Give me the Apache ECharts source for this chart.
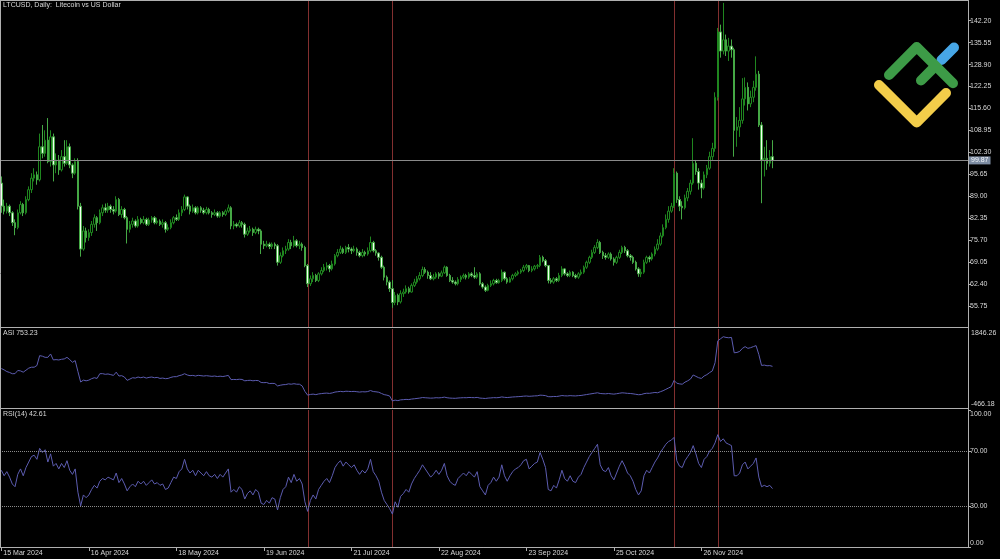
<!DOCTYPE html>
<html><head><meta charset="utf-8">
<script src="https://cdn.jsdelivr.net/npm/echarts@6/dist/echarts.min.js"></script>
<style>html,body{margin:0;padding:0;background:#000;}#c{width:1000px;height:559px;}</style>
</head><body><div id="c"></div>
<script>
// ---------- data ----------
const titleText = 'LTCUSD, Daily:  Litecoin vs US Dollar';
const asiTitle = 'ASI 753.23';
const rsiTitle = 'RSI(14) 42.61';
const startDate = [2024, 2, 15];       // 15 Mar 2024
const totalSlots = 354;                 // visible daily slots on the x axis
const labelEvery = 32;
const MONTHS = ['Jan','Feb','Mar','Apr','May','Jun','Jul','Aug','Sep','Oct','Nov','Dec'];
// [open, close, low, high]
const ohlc = [
[93,86,84,95],[86,84.5,83.5,88],[84.5,86,83.8,87],[86,84,83,86.5],[84,81,80,84.5],[81,79.5,77.2,82],[79.5,84,79,85],[84,86.5,83.5,87.5],[86.5,84,83,87],[84,88,83.5,89],
[88,91,87.5,92],[91,94.5,90,96],[94.5,95.5,93.5,97.5],[95.5,94,92.5,96.5],[94,104,93.5,108],[104,102,100.5,110.6],[102,106,101,109],[106,99.5,99,112.7],[99.5,107,98,109],[107,98.5,93.5,108],
[98.5,100,96,102],[100,97,95.5,101.5],[97,101,96.5,103],[101,99,98,106],[99,104,98.5,106],[104,98.5,97.5,105],[98.5,96,94.5,99],[96,99.5,95.5,100.5],[99.5,86,85,100.5],[86,73,70.7,87],
[73,78.5,72.5,80],[78.5,76.5,75,79.5],[76.5,78,75.5,79],[78,80.5,77,81.5],[80.5,82.5,79.5,83.5],[82.5,81,78.5,83],[81,84,80.5,85],[84,85.5,83,86.5],[85.5,84.8,84,86.8],[84.8,86,84,87],
[86,85,84,86.5],[85,84.5,83.5,86],[84.5,88,84,89],[88,83.5,83,88.5],[83.5,85,82.5,86],[85,82.5,82,85.5],[82.5,79,74.7,83],[79,80.5,78,81.5],[80.5,81.5,79.5,82.5],[81.5,80,79.5,82],
[80,82,79.5,83],[82,81,80.5,82.5],[81,82,80.5,83],[82,80.5,80,82.5],[80.5,81.8,80,82.5],[81.8,82.5,81,83],[82.5,81,80.5,83],[81,81.5,80.5,82.5],[81.5,80.5,80,82],[80.5,81,79.5,82],
[81,79,78,81.5],[79,79.5,78.5,80.5],[79.5,81,79,82],[81,82.5,80.5,83],[82.5,82,81.5,83.5],[82,84,81.5,85],[84,85,83,86],[85,88.8,84.5,89.5],[88.8,86,85,89],[86,84.5,83.5,86.5],
[84.5,85.5,84,86.5],[85.5,84,83.5,86],[84,85.5,83.5,86],[85.5,84.8,84,86],[84.8,84,83.5,85.5],[84,85,83.5,85.8],[85,84,83.5,85.5],[84,83.5,82.5,84.5],[83.5,84,83,85],[84,83,82.5,84.5],
[83,84,82.5,84.5],[84,83.5,82.8,84.5],[83.5,84.5,83,85],[84.5,85.5,84,86.5],[85.5,80,79,86],[80,80.5,79,81.5],[80.5,80,79.5,81],[80,81,79.5,81.8],[81,80.5,79.5,81.5],[80.5,77.5,76.5,81],
[77.5,78.5,77,79.5],[78.5,79,78,80],[79,78,77,79.5],[78,79,77.5,79.8],[79,78.5,77.5,79.5],[78.5,74.5,71.5,79],[74.5,74,73,75.5],[74,74.5,73.5,75.5],[74.5,73.8,73,75],[73.8,74.5,73,75],
[74.5,74,73,75],[74,69,68,74.5],[69,71,68.5,72],[71,72.5,70.5,73.5],[72.5,73,71.5,74],[73,75,72.5,76],[75,74,73,75.8],[74,75.5,73.5,77],[75.5,74,73.5,76],[74,74.5,73,75.5],
[74.5,73.5,72.5,75],[73.5,68,67.5,74],[68,62.5,61.5,68.5],[62.5,64,61.8,65],[64,65,63,66],[65,63.5,63,65.5],[63.5,65.5,63,66],[65.5,66.5,65,67.5],[66.5,67.5,66,68.5],[67.5,68,66.5,69],
[68,67,66,68.5],[67,68.5,66.5,69.5],[68.5,71,68,71.5],[71,72,70.5,73],[72,73,71.5,74],[73,72,71.5,73.5],[72,73.5,71.5,74],[73.5,73,72,74.5],[73,72.5,71.5,73.5],[72.5,73,72,74],
[73,72,71,73.5],[72,71,70.5,72.5],[71,72,70.5,73],[72,71.5,70.8,72.5],[71.5,72.5,71,73.5],[72.5,75,72,76.8],[75,72.5,72,75.5],[72.5,71.8,71,73],[71.8,70.5,69.5,72],[70.5,67.5,67,71],
[67.5,64.5,63.5,68],[64.5,63,62,65],[63,61,60,63.5],[61,56.8,55.2,63.6],[56.8,59,56,60],[59,57,56,59.5],[57,59.5,56.5,60.5],[59.5,60,58.5,61],[60,61,59.5,62],[61,60,59.5,61.6],
[60,62,59.8,62.6],[62,63,61.5,64],[63,64,62.5,64.8],[64,65,63.5,66],[65,66.8,64.5,67.7],[66.8,66,65.5,67.5],[66,65,64,66.5],[65,64,63.6,66],[64,64.5,63.5,65.5],[64.5,65.5,64,66],
[65.5,64.8,64,66],[64.8,65.8,64.5,66.5],[65.8,67.5,65.5,68],[67.5,65,64.6,67.8],[65,63.5,63,65.5],[63.5,63,62.5,64.5],[63,62.5,62,63.5],[62.5,63.8,62,64.5],[63.8,64.5,63,65],[64.5,65,64,65.6],
[65,64.5,63.8,65.5],[64.5,65.5,64,66],[65.5,65,64.5,66],[65,64.5,64,67.5],[64.5,65.5,64,66],[65.5,62.5,62,66],[62.5,61.5,61,63],[61.5,60.5,60,62],[60.5,62,60.2,62.5],[62,62.5,61.5,63.5],
[62.5,63.5,62,64],[63.5,62.8,62.5,64],[62.8,63.5,62.5,64],[63.5,66,63,66.8],[66,64,63.5,66.2],[64,63,62.5,64.5],[63,64,62.8,64.5],[64,65,63.5,65.5],[65,65.5,64.5,66],[65.5,66,65,66.5],
[66,66.5,65.5,67],[66.5,67.5,66,68.2],[67.5,68,66.8,68.5],[68,66.5,66,68.2],[66.5,67,66,67.8],[67,67.8,66.5,68.2],[67.8,68,67,68.5],[68,70.5,67.5,71.2],[70.5,69.5,69,71],[69.5,68,67.5,70],
[68,63.5,62.6,68.2],[63.5,63,62.5,64.2],[63,64,62.5,64.5],[64,63.5,63,64.5],[63.5,65,63,65.8],[65,67,64.5,67.8],[67,65.5,65,67.2],[65.5,65,64.5,66],[65,66,64.5,66.5],[66,65,64.5,66.3],
[65,64.5,64,65.5],[64.5,65.5,64,66],[65.5,66,65,66.8],[66,67.5,65.5,68],[67.5,69,67,69.5],[69,70.5,68.5,71],[70.5,72,70,72.8],[72,73.5,71.5,74.2],[73.5,75,73,76],[75,72,71.5,75.5],
[72,71,70,72.5],[71,70.5,69.8,71.8],[70.5,71.5,70,72],[71.5,70,69.5,72],[70,69,68,70.5],[69,70.5,68.5,71],[70.5,72,70,72.8],[72,73.5,71.5,74],[73.5,72.5,71.8,74],[72.5,71,70.5,73],
[71,70.5,69.5,71.5],[70.5,69,68.5,71],[69,67,66.5,69.5],[67,65.5,64.6,67.5],[65.5,66,64.5,67],[66,69,65.5,69.8],[69,70.5,68.5,71],[70.5,70,69,71],[70,71.5,69.5,72],[71.5,73,70.8,73.8],
[73,74.5,72.5,76],[74.5,77,74,78],[77,79.5,76.5,80.5],[79.5,82,79,83.5],[82,84.5,81,86],[84.5,86,84,87],[86,96,85.5,97.5],[96,88,87,96.5],[88,86,84.5,89],[86,85.5,82,87.5],
[85.5,88.5,85,89.5],[88.5,90.5,87.5,91.5],[90.5,93,89.5,94],[93,99,92.5,106.6],[99,96.5,95.5,100],[96.5,93,91,97.5],[93,91.5,88.4,94],[91.5,95.5,91,96.5],[95.5,97.5,94.5,98.5],[97.5,101,97,102.5],
[101,103.5,100,105.2],[103.5,119,102.5,120.5],[119,138.8,118,140],[138.8,133,131,141],[133,136.4,132,147.6],[136.4,133,131.5,138],[133,134.5,130,137],[134.5,133.4,131,136.5],[133.4,109,101,134],[109,110,104,113],
[110,112,107,116],[112,118.5,111,124.8],[118.5,122,116.5,125],[122,117,115,123.5],[117,119,116,121],[119,122,117.5,124],[122,126,121,131.4],[126,110.6,110,127],[110.6,100,86.9,111.5],[100,100.5,95,104],
[100.5,99,97,106],[99,101,98,103],[101,99.87,97.5,106]
];
const asi = [
690,650,600,574,537,540,632,620,583,640,
700,728,728,777,1066,1050,1017,1017,1115,941,
950,940,960,970,1017,950,872,921,600,294,
350,330,350,392,420,400,537,540,520,530,
510,488,583,470,480,440,343,380,420,410,
440,420,440,410,430,440,420,430,400,410,
392,400,430,450,450,480,500,537,500,480,
488,470,490,480,470,480,470,460,470,455,
465,455,470,488,364,370,365,375,370,330,
340,345,330,340,335,280,275,280,250,255,
250,180,200,215,220,240,230,245,230,230,
180,20,-90,-70,-60,-75,-55,-45,-35,-30,
-40,-25,0,10,20,10,25,20,15,20,
10,0,10,5,15,45,15,8,-5,-40,
-75,-90,-115,-260,-235,-250,-228,-222,-214,-220,
-205,-196,-186,-176,-160,-166,-172,-178,-174,-165,
-170,-162,-148,-166,-176,-180,-183,-174,-168,-164,
-166,-158,-161,-164,-156,-176,-182,-188,-176,-171,
-163,-166,-160,-142,-154,-160,-152,-144,-139,-134,
-129,-120,-115,-124,-119,-112,-109,-90,-95,-104,
-134,-137,-128,-131,-118,-102,-110,-113,-104,-110,
-113,-104,-99,-86,-73,-60,-47,-34,-21,-41,
-48,-51,-42,-52,-60,-48,-35,-22,-28,-38,
-41,-51,-65,-77,-72,-47,-34,-37,-24,-12,
-20,10,40,80,120,160,340,260,240,230,
290,330,380,500,460,420,400,470,510,570,
620,860,1500,1560,1620,1600,1590,1600,1150,1160,
1190,1280,1330,1280,1300,1330,1360,1100,780,790,
770,775,753.23
];
const rsi = [
56,52,55,51,46,44,53,57,52,58,
62,66,67,64,72,69,71,62,68,59,
61,57,61,58,63,56,53,57,40,30,
38,36,38,42,45,43,48,50,49,51,
50,49,54,47,50,46,41,44,46,44,
48,46,48,45,47,49,46,47,45,46,
42,43,47,51,50,55,57,64,57,54,
56,52,56,54,52,55,52,51,53,50,
53,51,54,57,40,42,40,44,42,35,
39,41,38,42,40,32,31,34,32,36,
35,27,36,42,44,51,47,53,48,50,
46,33,26,34,38,35,42,45,48,50,
47,52,58,61,63,59,62,60,58,60,
56,53,56,54,57,64,55,52,48,40,
34,31,28,24,33,29,37,39,42,40,
46,50,53,56,60,57,54,51,53,56,
53,56,61,52,48,46,45,50,52,54,
52,55,53,51,55,44,41,38,45,47,
51,48,51,60,52,48,52,55,57,58,
60,63,64,57,59,61,62,69,64,58,
42,41,45,43,49,56,50,48,52,48,
47,51,53,58,62,66,69,72,75,60,
56,55,58,52,49,54,59,63,59,54,
52,48,42,38,41,52,56,54,58,62,
65,69,72,75,77,78,80,63,59,58,
63,66,69,74,68,61,58,64,66,70,
72,76,82,77,79,76,75,74,52,52,
54,60,62,57,59,61,65,51,44,45,
44,45,42.61
];
const priceTicks = [55.75,62.40,69.05,75.70,82.35,89.00,95.65,102.30,108.95,115.60,122.25,128.90,135.55,142.20];
const priceRange = [49.39, 148.17];
const asiTicks = [-466.18, 1846.26];
const rsiTicks = [0, 30, 70, 100];
const rsiLevels = [70, 30];
const lastPrice = 99.87;
const markerDates = ['5 Jul 2024', '5 Aug 2024', '16 Nov 2024', '2 Dec 2024'];

// ---------- build ----------
const startUTC = Date.UTC(startDate[0], startDate[1], startDate[2]);
const categories = Array.from({length: totalSlots}, (_, i) => {
  const d = new Date(startUTC + i * 86400000);
  return d.getUTCDate() + ' ' + MONTHS[d.getUTCMonth()] + ' ' + d.getUTCFullYear();
});
const FONT = 'Liberation Sans';
const TXT = '#d8d8d8';
const FRAME = '#b0b0b0';
const RED = '#822f2f';
const IND = '#5c5cb0';
const FS = 7;

const markerData = markerDates.map(d => [categories.indexOf(d)]);
const showLabel = (idx) => idx % labelEvery === 0 && idx < ohlc.length;

function markerSeries(gi) {
  return {
    type: 'custom', xAxisIndex: gi, yAxisIndex: gi, data: markerData, z: 1, silent: true,
    encode: {x: 0},
    renderItem: function (params, api) {
      const cs = params.coordSys;
      const px = api.coord([api.value(0), 0])[0];
      const x = 2 * Math.round(px / 2) + 0.5;   // pixel-snapped
      return {type: 'line', shape: {x1: x, y1: cs.y, x2: x, y2: cs.y + cs.height},
              style: {stroke: RED, lineWidth: 1}};
    }
  };
}

function edgeFmt(min, max) {
  return function (v) {
    const s = v.toFixed(2);
    if (Math.abs(v - max) < 1e-6) return '{t|' + s + '}';
    if (Math.abs(v - min) < 1e-6) return '{b|' + s + '}';
    return '{m|' + s + '}';
  };
}
const richEdge = {
  t: {padding: [8, 0, 0, 0], fontSize: FS, fontFamily: FONT, color: TXT},
  b: {padding: [0, 0, 8, 0], fontSize: FS, fontFamily: FONT, color: TXT},
  m: {fontSize: FS, fontFamily: FONT, color: TXT}
};

const grids = [
  {left: 0, width: 968, top: 1, height: 326},
  {left: 0, width: 968, top: 329, height: 79},
  {left: 0, width: 968, top: 410, height: 137}
];
const hiddenX = (gi) => ({type: 'category', gridIndex: gi, data: categories, boundaryGap: true, show: false, axisPointer: {show: false}});
const option = {
  backgroundColor: '#000000',
  animation: false,
  grid: grids,
  xAxis: [
    hiddenX(0), hiddenX(1),
    {type: 'category', gridIndex: 2, data: categories, boundaryGap: true, axisPointer: {show: false},
     axisLine: {show: true, lineStyle: {color: FRAME, width: 1}},
     axisTick: {show: true, alignWithLabel: true, interval: (i) => showLabel(i), length: 4, lineStyle: {color: FRAME}},
     axisLabel: {show: true, interval: (i) => showLabel(i), align: 'left', margin: 3, padding: [0, 0, 0, 2],
       color: TXT, fontSize: FS, fontFamily: FONT, hideOverlap: false},
     splitLine: {show: false}}
  ],
  yAxis: [
    {type: 'value', gridIndex: 0, position: 'right', min: priceRange[0], max: priceRange[1], scale: true,
     axisLine: {show: true, lineStyle: {color: FRAME}},
     axisTick: {show: true, length: 3, lineStyle: {color: FRAME}, customValues: priceTicks},
     axisLabel: {show: true, margin: 2, color: TXT, fontSize: FS, fontFamily: FONT, customValues: priceTicks,
       formatter: v => v.toFixed(2)},
     splitLine: {show: false}},
    {type: 'value', gridIndex: 1, position: 'right', min: asiTicks[0], max: asiTicks[1],
     axisLine: {show: true, lineStyle: {color: FRAME}},
     axisTick: {show: false},
     axisLabel: {show: true, margin: 3, customValues: asiTicks, formatter: edgeFmt(asiTicks[0], asiTicks[1]), rich: richEdge},
     splitLine: {show: false}},
    {type: 'value', gridIndex: 2, position: 'right', min: 0, max: 100,
     axisLine: {show: true, lineStyle: {color: FRAME}},
     axisTick: {show: true, length: 3, lineStyle: {color: FRAME}, customValues: rsiTicks},
     axisLabel: {show: true, margin: 2, customValues: rsiTicks, formatter: edgeFmt(0, 100), rich: richEdge},
     splitLine: {show: false}}
  ],
  series: [
    markerSeries(0), markerSeries(1), markerSeries(2),
    {type: 'candlestick', xAxisIndex: 0, yAxisIndex: 0, data: ohlc, barWidth: 2, z: 3,
     itemStyle: {color: '#000000', color0: '#f2fff0', borderColor: '#1f861f', borderColor0: '#45a845', borderWidth: 1},
     markLine: {
       symbol: 'none', silent: true, animation: false,
       data: [{yAxis: lastPrice, lineStyle: {color: '#8a8a8a', width: 1, type: 'solid'},
           label: {show: true, position: 'end', distance: 1, formatter: lastPrice.toFixed(2), color: '#f0f4f8',
             backgroundColor: '#7d8ca2', padding: [1, 2, 0, 2], fontSize: FS, fontFamily: FONT}}]
     }},
    {type: 'line', xAxisIndex: 1, yAxisIndex: 1, data: asi, showSymbol: false, symbol: 'none', z: 3,
     lineStyle: {color: IND, width: 1}},
    {type: 'line', xAxisIndex: 2, yAxisIndex: 2, data: rsi, showSymbol: false, symbol: 'none', z: 3,
     lineStyle: {color: IND, width: 1},
     markLine: {
       symbol: 'none', silent: true, animation: false, label: {show: false},
       data: rsiLevels.map(l => ({yAxis: l, lineStyle: {color: '#8a8a8a', width: 1, type: 'dotted'}}))
     }}
  ],
  graphic: [
    {type: 'line', z: 100, shape: {x1: 0, y1: 0.5, x2: 968, y2: 0.5}, style: {stroke: FRAME, lineWidth: 1}},
    {type: 'line', z: 100, shape: {x1: 0.5, y1: 0, x2: 0.5, y2: 547}, style: {stroke: FRAME, lineWidth: 1}},
    {type: 'line', z: 100, shape: {x1: 0, y1: 327.5, x2: 968, y2: 327.5}, style: {stroke: FRAME, lineWidth: 1}},
    {type: 'line', z: 100, shape: {x1: 0, y1: 408.5, x2: 968, y2: 408.5}, style: {stroke: FRAME, lineWidth: 1}},
    {type: 'line', z: 100, shape: {x1: 968.5, y1: 0, x2: 968.5, y2: 547}, style: {stroke: FRAME, lineWidth: 1}},
    {type: 'text', z: 100, left: 3, top: 2, style: {text: titleText, fill: TXT, font: FS + 'px ' + FONT}},
    {type: 'text', z: 100, left: 3, top: 330, style: {text: asiTitle, fill: TXT, font: FS + 'px ' + FONT}},
    {type: 'text', z: 100, left: 3, top: 411, style: {text: rsiTitle, fill: TXT, font: FS + 'px ' + FONT}},
    {type: 'polyline', z: 50, shape: {points: [[879, 85], [916.7, 122.5], [946, 93]]},
     style: {stroke: '#f3cd4a', lineWidth: 10, lineCap: 'round', lineJoin: 'round', fill: null}},
    {type: 'polyline', z: 50, shape: {points: [[921, 80.5], [935.6, 65.9]]},
     style: {stroke: '#3d9b47', lineWidth: 10, lineCap: 'round', fill: null}},
    {type: 'polyline', z: 50, shape: {points: [[941.5, 60], [954, 47.5]]},
     style: {stroke: '#47a6e6', lineWidth: 10, lineCap: 'round', fill: null}},
    {type: 'polyline', z: 51, shape: {points: [[889, 75], [916.7, 47], [953, 83.3]]},
     style: {stroke: '#3d9b47', lineWidth: 10, lineCap: 'round', lineJoin: 'round', fill: null}}
  ]
};
const chart = echarts.init(document.getElementById('c'), null, {renderer: 'canvas'});
chart.setOption(option);
</script>
</body></html>
